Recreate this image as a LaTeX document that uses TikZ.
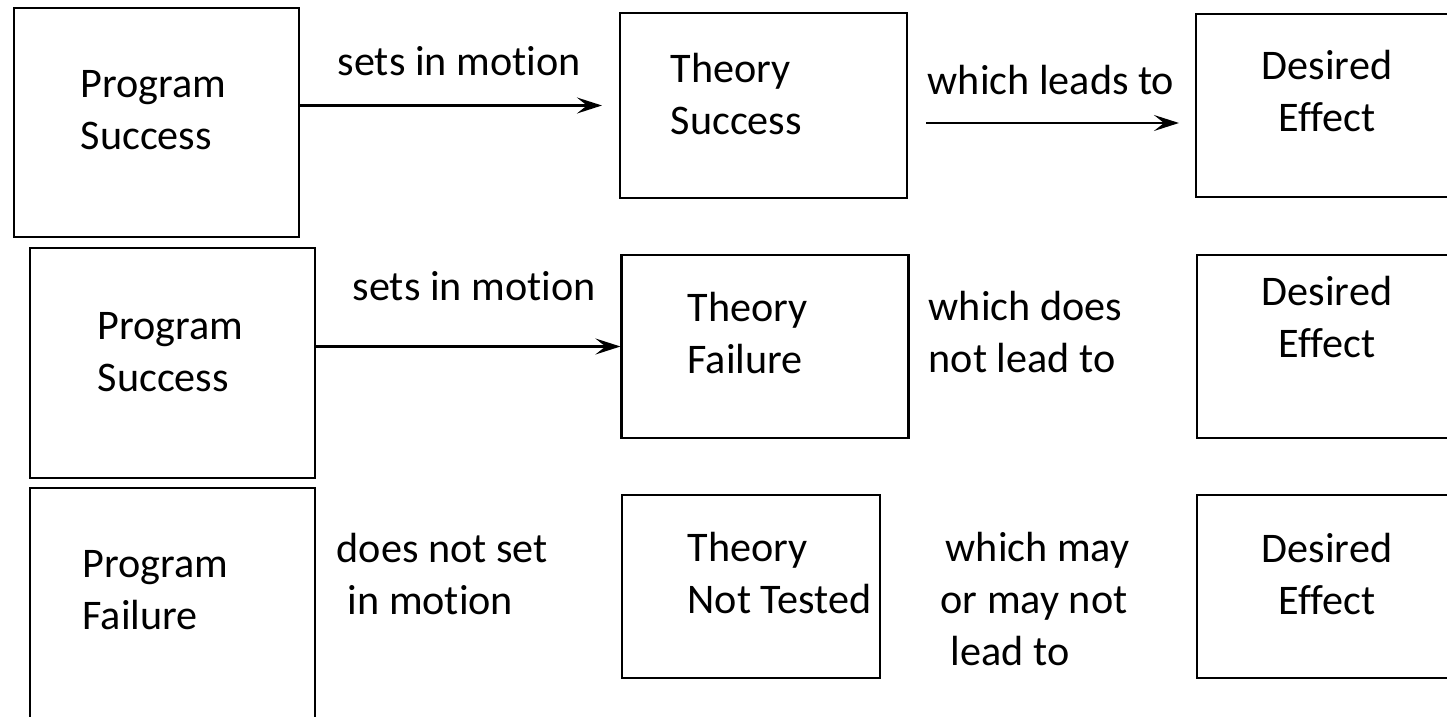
\documentclass[tikz,border=0pt]{standalone}
\usepackage{fontspec}
\setmainfont{Carlito}[Ligatures=NoCommon]
\usetikzlibrary{arrows.meta}

\begin{document}
\begin{tikzpicture}[
        box/.style={draw, line width=0.6pt, minimum width=2.87cm, minimum height=1.83cm, inner sep=0pt},
        lbl/.style={inner sep=0pt, align=left, font=\fontsize{12}{14.7}\selectfont},
        arrow/.style={-{Stealth[length=2.5mm, width=1.6mm, inset=1mm]}, line width=0.6pt}
    ]
            \useasboundingbox (0,0) rectangle (14.47,-7.16);
            \clip (0,0) rectangle (14.47,-7.16);
            % program column
            \node[box, minimum width=2.85cm, minimum height=2.29cm] (ps1) at (1.565,-1.225) {};
            \node[box, minimum width=2.85cm, minimum height=2.30cm] (ps2) at (1.725,-3.63) {};
            \node[box, minimum width=2.85cm, minimum height=2.52cm] (pf) at (1.725,-6.14) {};
            \node[lbl, anchor=north west] (ps1text) at (0.80,-0.70) {Program\\Success};
            \node[lbl, anchor=north west] (ps2text) at (0.97,-3.12) {Program\\Success};
            \node[lbl, anchor=north west] (pftext) at (0.82,-5.50) {Program\\Failure};
            % theory column
            \node[box, minimum height=1.85cm] (ts) at (7.635,-1.055) {};
            \node[box] (tf) at (7.65,-3.465) {};
            \node[box, minimum width=2.58cm] (tn) at (7.51,-5.865) {};
            \node[lbl, anchor=north west] (tstext) at (6.70,-0.53) {Theory\\Success};
            \node[lbl, anchor=north west] (tftext) at (6.87,-2.92) {Theory\\Failure};
            \node[lbl, anchor=north west] (tntext) at (6.87,-5.32) {Theory\\Not Tested};
            % effect column (cut by the right edge)
            \node[box, minimum width=2.84cm] (de1) at (13.38,-1.055) {};
            \node[box, minimum width=2.84cm] (de2) at (13.39,-3.465) {};
            \node[box, minimum width=2.84cm] (de3) at (13.39,-5.865) {};
            \node[lbl, align=center, anchor=north] (de1text) at (13.27,-0.50) {Desired\\Effect};
            \node[lbl, align=center, anchor=north] (de2text) at (13.27,-2.76) {Desired\\Effect};
            \node[lbl, align=center, anchor=north] (de3text) at (13.27,-5.33) {Desired\\Effect};
            % arrows and their words
            \coordinate (leadsrow) at (0,-1.23);
            \draw[arrow, shorten >=0.17cm] (ps1.east |- ts.west) -- (ts.west);
            \draw[arrow, shorten <=0.18cm, shorten >=0.16cm] (ts.east |- leadsrow) -- (de1.west |- leadsrow);
            \draw[arrow] (ps2.east |- tf.west) -- (tf.west);
            \node[lbl, anchor=base west] (setsA) at (3.37,-0.76) {sets in motion};
            \node[lbl, anchor=base west] (leads) at (9.27,-0.95) {which leads to};
            \node[lbl, anchor=base west] (setsB) at (3.52,-3.00) {sets in motion};
            \node[lbl, anchor=north west] (notlead) at (9.28,-2.91) {which does\\not lead to};
            \node[lbl, anchor=north west] (notset) at (3.36,-5.33) {does not set\\\hspace{0.11cm}in motion};
            \node[lbl, anchor=north west] (maylead) at (9.40,-5.32) {\hspace{0.05cm}which may\\or may not\\\hspace{0.10cm}lead to};
        \end{tikzpicture}
\end{document}
